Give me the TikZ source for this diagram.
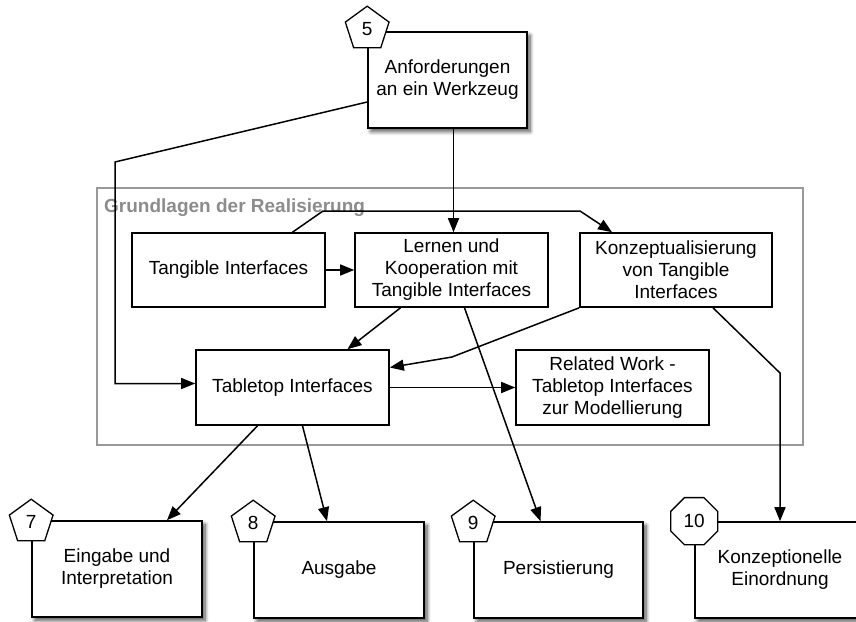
\documentclass[tikz,border=0pt]{standalone}
\usepackage{fontspec}
\setmainfont{Liberation Sans}
\usetikzlibrary{arrows.meta,shapes.geometric,shadows.blur}

\tikzset{
  txt/.style={font=\fontsize{19}{22}\selectfont},
  box/.style={txt, draw, line width=1.6pt, fill=white, align=center, inner sep=2pt},
  chapter/.style={box, blur shadow={shadow xshift=3pt, shadow yshift=-3.5pt,
      shadow blur radius=4pt, shadow blur steps=8, shadow opacity=70}},
  badge/.style={txt, draw, line width=1.3pt, fill=white, regular polygon,
      regular polygon sides=5, minimum size=46pt, inner sep=0pt},
  octbadge/.style={badge, regular polygon sides=8, minimum size=51pt},
  conn/.style={line width=1.5pt, -{Triangle[length=14pt,width=11pt]}},
  group/.style={draw=black!40, line width=1.4pt},
  grouplabel/.style={font=\fontsize{19}{22}\selectfont\bfseries, text=black!45,
      anchor=base west, inner sep=0pt}
}

\begin{document}
\begin{tikzpicture}[x=1pt,y=-1pt]
\useasboundingbox (0,0) rectangle (856,621);

% grouping frame
\draw[group] (97,188) rectangle (803,445);
\node[grouplabel] (glabel) at (104,212) {Grundlagen der Realisierung};

% chapter boxes
\node[chapter, minimum width=159pt, minimum height=96pt] (anf) at (447.5,80)
  {Anforderungen\\an ein Werkzeug};
\node[box, minimum width=193pt, minimum height=74pt] (tang) at (228.5,270)
  {Tangible Interfaces};
\node[box, minimum width=193pt, minimum height=74pt] (lern) at (451.5,270)
  {Lernen und\\Kooperation mit\\Tangible Interfaces};
\node[box, minimum width=192pt, minimum height=74pt] (konz) at (676,270)
  {Konzeptualisierung\\von Tangible\\Interfaces};
\node[box, minimum width=193pt, minimum height=75pt] (table) at (292.5,387.5)
  {Tabletop Interfaces};
\node[box, minimum width=193pt, minimum height=75pt] (rel) at (612.5,387.5)
  {Related Work -\\Tabletop Interfaces\\zur Modellierung};

\node[chapter, minimum width=170pt, minimum height=96pt] (ein) at (117,569)
  {Eingabe und\\Interpretation};
\node[chapter, minimum width=170pt, minimum height=96pt] (aus) at (339,570)
  {Ausgabe};
\node[chapter, minimum width=169pt, minimum height=96pt] (pers) at (558.5,570)
  {Persistierung};
\node[chapter, minimum width=170pt, minimum height=96pt] (kein) at (780,570)
  {Konzeptionelle\\Einordnung};

% chapter numbers
\node[badge] (b5) at ([yshift=2pt]anf.north west) {5};
\node[badge] (b7) at ([yshift=-2pt]ein.north west) {7};
\node[badge] (b8) at ([yshift=-2pt]aus.north west) {8};
\node[badge] (b9) at ([yshift=-2pt]pers.north west) {9};
\node[octbadge] (b10) at (kein.north west) {10};

% connectors
\draw[conn] ([yshift=-22pt]anf.west) -- (115,162) |- ([yshift=4pt]table.west);
\draw[conn] ([xshift=6pt]anf.south) -- ([xshift=6pt]anf.south |- lern.north);
\draw[conn] (tang.east) -- (lern.west);
\draw[conn] ([xshift=64pt]tang.north) -- (323,211) -- (580,211)
  -- ([xshift=-64pt]konz.north);
\draw[conn] ([xshift=-51pt]lern.south) -- ([xshift=55pt]table.north);
\draw[conn] (konz.south west) -- (452,357) -- ([yshift=20pt]table.east);
\draw[conn] ([xshift=13pt]lern.south) -- ([xshift=-18pt]pers.north);
\draw[conn] ([xshift=37pt]konz.south) -- (780,373) -- (kein.north);
\draw[conn] (table.east) -- (rel.west);
\draw[conn] ([xshift=-35pt]table.south) -- ([xshift=50pt]ein.north);
\draw[conn] ([xshift=10pt]table.south) -- ([xshift=-12pt]aus.north);
\end{tikzpicture}
\end{document}
